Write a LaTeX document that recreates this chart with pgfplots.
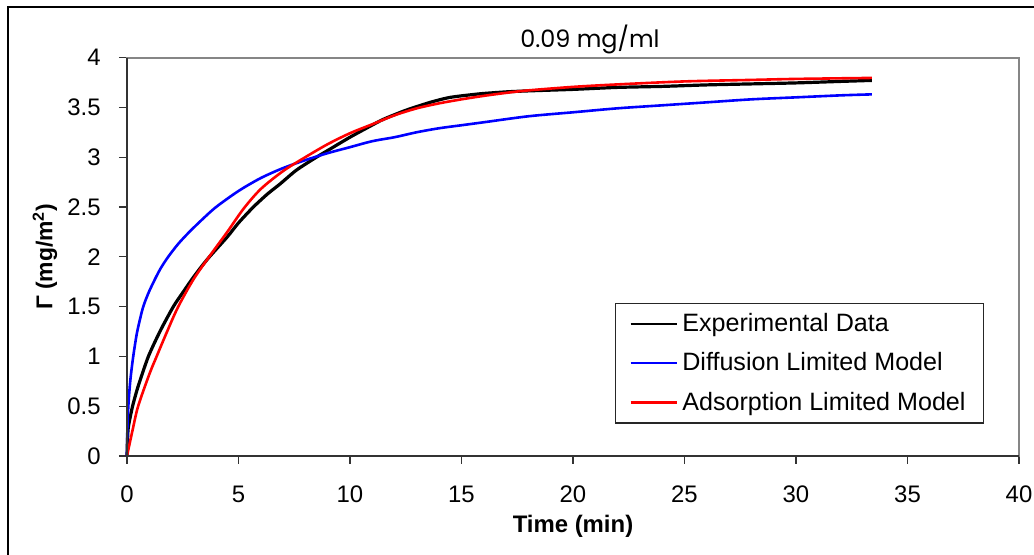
\documentclass[border=0pt]{standalone}
\usepackage{fontspec}
\setmainfont{Liberation Sans}
\newfontfamily\titlefont{Poppins}
\usepackage{pgfplots}
\pgfplotsset{compat=1.18}
\definecolor{expK}{RGB}{0,0,0}
\definecolor{difB}{RGB}{0,0,255}
\definecolor{adsR}{RGB}{255,0,0}
\definecolor{boxG}{RGB}{134,134,134}
\begin{document}
\begin{tikzpicture}
\useasboundingbox (0,0) rectangle (517bp,277.5bp);
\draw[line width=0.6bp, black] (4bp,0) -- (4bp,274bp) -- (517bp,274bp);
\begin{axis}[
  at={(63.5bp,49.5bp)}, anchor=south west,
  scale only axis, width=446bp, height=199.25bp,
  xmin=0, xmax=40, ymin=0, ymax=4,
  xtick={0,5,...,40}, ytick={0,0.5,...,4},
  xtick pos=bottom, ytick pos=left,
  tick align=outside, major tick length=4bp,
  tick style={line width=0.6bp, black!80},
  axis line style={line width=1bp, boxG},
  /pgf/number format/assume math mode=true,
  ticklabel style={font=\fontsize{12}{14}\selectfont},
  xticklabel style={anchor=center, yshift=-15bp},
  yticklabel style={anchor=east, inner sep=0pt, xshift=-9bp},
  yticklabel={\pgfmathprintnumber[fixed, precision=1]{\tick}},
  xlabel={\textbf{Time (min)}},
  xlabel style={at={(axis description cs:0.5,0)}, anchor=center, yshift=-35bp, font=\fontsize{12}{14}\selectfont},
  ylabel={\textbf{Γ (mg/m\textsuperscript{2})}},
  ylabel style={at={(axis description cs:-0.092,0.5)}, anchor=center, font=\fontsize{11.5}{13}\selectfont},
  legend style={at={(axis description cs:0.547,0.384)}, anchor=north west,
    draw=black!85, line width=0.6bp, inner xsep=7bp, inner ysep=3bp,
    row sep=5bp, font=\fontsize{12.6}{14}\selectfont},
  legend cell align=left,
  legend image code/.code={\draw[#1, line width=1.1bp] (0bp,0bp) -- (23.3bp,0bp);},
  clip=false,
]
\addplot[expK, line width=1.6bp, smooth, tension=0.4] coordinates {
(0,0) (0.02,0.15) (0.05,0.27) (0.1,0.34) (0.25,0.5) (0.5,0.7) (0.96,1.0)
(1.5,1.26) (2.08,1.5) (2.5,1.64) (2.9,1.77) (3.3,1.89) (3.7,2.0) (4.5,2.2)
(5.0,2.34) (5.67,2.5) (6.3,2.63) (6.86,2.73) (7.6,2.87) (8.5,3.0) (9.1,3.08)
(10,3.2) (10.9,3.31) (11.5,3.38) (12.5,3.47) (13.6,3.55) (14.5,3.6)
(15.8,3.635) (17,3.655) (18,3.665) (20,3.68) (22,3.70) (24,3.71) (26,3.725)
(28,3.735) (30,3.745) (32,3.76) (33.4,3.77)};
\addlegendentry{Experimental Data}
\addplot[difB, line width=1.3bp, smooth] coordinates {
(0,0) (0.01,0.2) (0.03,0.35) (0.06,0.5) (0.1,0.63) (0.15,0.76) (0.21,0.88)
(0.28,1.0) (0.36,1.12) (0.45,1.24) (0.58,1.37) (0.73,1.5) (0.95,1.63)
(1.2,1.75) (1.5,1.88) (1.85,2.0) (2.3,2.13) (2.8,2.25) (3.4,2.38) (4.0,2.5)
(5.0,2.66) (6.0,2.79) (7.0,2.89) (8.0,2.97) (9.0,3.04) (10,3.1) (11,3.16)
(12,3.2) (13,3.25) (14,3.29) (15,3.32) (16,3.35) (18,3.41) (20,3.45)
(22,3.49) (24,3.52) (26,3.55) (28,3.58) (30,3.60) (32,3.62) (33.4,3.63)};
\addlegendentry{Diffusion Limited Model}
\addplot[adsR, line width=1.3bp, smooth] coordinates {
(0,0) (0.25,0.26) (0.5,0.5) (1.0,0.82) (1.33,1.0) (1.8,1.25) (2.3,1.5)
(3.0,1.78) (3.75,2.02) (4.5,2.25) (5.22,2.48) (6.0,2.68) (7.0,2.86) (8.0,3.0)
(9.0,3.13) (10,3.24) (11,3.33) (12,3.42) (13,3.49) (14,3.54) (15,3.58)
(16,3.615) (17,3.645) (18,3.67) (20,3.705) (22,3.73) (25,3.76) (28,3.775)
(30,3.785) (33.4,3.795)};
\addlegendentry{Adsorption Limited Model}
\draw[line width=1bp, black!80] (rel axis cs:0,1) -- (rel axis cs:0,0) -- (rel axis cs:1,0);
\node[anchor=base, font=\titlefont\fontsize{12}{14}\selectfont, yshift=5bp] at (rel axis cs:0.519,1) {0.09 mg/ml};
\end{axis}
\end{tikzpicture}
\end{document}
